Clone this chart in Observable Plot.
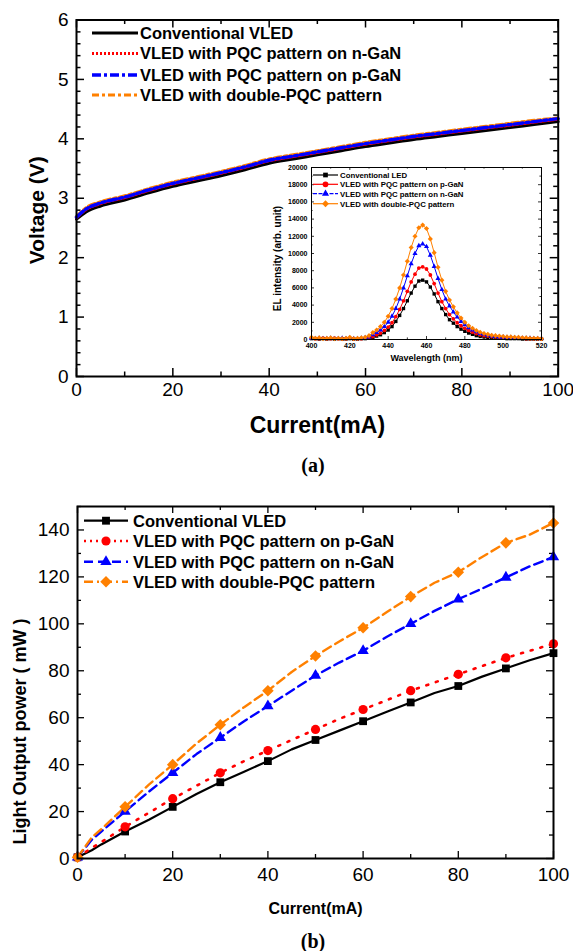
<!DOCTYPE html>
<html><head><meta charset="utf-8">
<script src="https://cdn.jsdelivr.net/npm/d3@7"></script>
<script src="https://cdn.jsdelivr.net/npm/@observablehq/plot@0.6"></script>
<style>
body{margin:0;background:#fff;}
#wrap{position:relative;width:573px;height:951px;background:#fff;overflow:hidden;font-family:"Liberation Sans",Arial,sans-serif;}
#wrap > svg{position:absolute;}
.cap{position:absolute;font-family:"Liberation Serif","Times New Roman",serif;font-weight:bold;font-size:20px;transform:translate(-50%,-50%);color:#000;}
</style></head><body><div id="wrap"></div>
<script>
// ---------- Panel (a): I-V ----------
const ivCurrent      = [0,2,5,10,15,20,25,30,35,40,45,50,55,60,65,70,75,80,85,90,95,100];
const ivConventional = [2.65,2.77,2.87,2.97,3.09,3.20,3.29,3.38,3.48,3.59,3.66,3.73,3.80,3.87,3.93,3.99,4.04,4.09,4.14,4.19,4.24,4.29];
const ivPqcN         = [2.67,2.81,2.91,3.01,3.13,3.24,3.33,3.42,3.52,3.63,3.70,3.77,3.84,3.91,3.97,4.03,4.08,4.13,4.18,4.23,4.28,4.33];
const ivPqcP         = [2.68,2.82,2.92,3.02,3.14,3.25,3.34,3.43,3.53,3.64,3.71,3.78,3.85,3.92,3.98,4.04,4.09,4.14,4.19,4.24,4.29,4.34];
const ivDouble       = [2.69,2.84,2.94,3.04,3.16,3.27,3.36,3.45,3.55,3.66,3.73,3.80,3.87,3.94,4.00,4.06,4.11,4.16,4.21,4.26,4.31,4.35];
const ivNames = ["Conventional VLED","VLED with PQC pattern on n-GaN","VLED with PQC pattern on p-GaN","VLED with double-PQC pattern"];
const ivXTicks = [0,20,40,60,80,100];
const ivYTicks = [0,1,2,3,4,5,6];

// ---------- Inset: EL spectra ----------
const wavelength = [400,402,404,406,408,410,412,414,416,418,420,422,424,426,428,430,432,434,436,438,440,442,444,446,448,450,452,454,456,458,460,462,464,466,468,470,472,474,476,478,480,482,484,486,488,490,492,494,496,498,500,502,504,506,508,510,512,514,516,518,520];
const elConventional = [100,100,50,100,50,100,50,100,50,50,100,50,50,100,100,150,250,400,550,800,1100,1500,2100,2800,3600,4500,5400,6200,6800,6900,6700,6100,5300,4400,3600,2900,2300,1900,1500,1200,950,750,600,450,350,300,250,200,200,150,150,100,100,100,100,50,50,50,50,50,50];
const elPqcP = [150,100,100,150,100,100,150,100,100,100,150,100,100,100,150,200,350,550,750,1050,1450,1950,2650,3500,4500,5600,6700,7600,8300,8450,8200,7500,6500,5400,4400,3600,2900,2400,1950,1600,1300,1050,850,700,550,450,400,350,300,250,250,200,200,150,150,150,100,100,100,100,100];
const elPqcN = [150,100,150,100,100,150,100,100,150,100,150,100,100,150,200,300,550,800,1100,1500,2000,2700,3600,4700,6000,7400,8800,10000,10900,11100,10800,9800,8500,7100,5800,4700,3900,3200,2600,2100,1700,1350,1100,900,700,600,500,400,350,300,300,250,250,200,200,150,150,150,100,100,100];
const elDouble = [250,150,200,100,150,200,100,150,100,150,250,100,150,200,250,450,800,1100,1500,2000,2700,3600,4700,6000,7500,9100,10700,12000,13000,13300,12900,11700,10100,8400,6900,5600,4600,3800,3100,2500,2000,1600,1300,1050,850,700,600,500,450,400,350,300,300,250,250,200,200,150,150,150,100];
const elNames = ["Conventional LED","VLED with PQC pattern on p-GaN","VLED with PQC pattern on n-GaN","VLED with double-PQC pattern"];
const elXTicks = [400,420,440,460,480,500,520];
const elYTicks = [0,2000,4000,6000,8000,10000,12000,14000,16000,18000,20000];

// ---------- Panel (b): L-I ----------
const lopCurrent      = [0,3,5,10,15,20,25,30,35,40,45,50,55,60,65,70,75,80,85,90,95,100];
const lopConventional = [0.5,3.5,6,11.5,16.5,22,27.5,32.5,37,41.5,46.5,50.5,54.5,58.5,62.5,66.5,70.5,73.5,77.5,81,84.5,87.5];
const lopPqcP         = [0.5,4.5,7,13.5,19.5,25.5,31,36.5,41.5,46,50.5,55,59.5,63.5,67.5,71.5,75,78.5,82,85.5,88.5,91.5];
const lopPqcN         = [0.5,8,11.5,20,28.5,36.5,44.5,51.5,58.5,65,71.5,78,83.5,88.5,94.5,100,105.5,110.5,115,119.8,124.5,128.5];
const lopDouble       = [0.5,9,12.5,22,31.5,40,49,57,64.5,71.5,79.5,86.3,92.5,98.3,105,111.6,117.5,122,128.5,134.5,138,143];
const lopNames = ["Conventional VLED","VLED with PQC pattern on p-GaN","VLED with PQC pattern on n-GaN","VLED with double-PQC pattern"];
const lopXTicks = [0,20,40,60,80,100];
const lopYTicks = [0,20,40,60,80,100,120,140];

// ---------- helpers ----------
const FONT = "Liberation Sans, Arial, Helvetica, sans-serif";
const RED = "#ff0000", BLUE = "#0000ff", ORANGE = "#ff8000", BLACK = "#000000";
const rows = (xs, ys) => xs.map((x, i) => ({x, y: ys[i]}));
const range = (a, b, s) => d3.range(a, b + s / 2, s);
const fmt = d => String(d);

function boxTicks({xMajor, xMinor, yMajor, yMinor, innerW, innerH, maj, min, sw}) {
  const tx = (v, len) => [
    Plot.tickX(v, {x: d => d, insetTop: innerH - len, stroke: BLACK, strokeWidth: sw}),
    Plot.tickX(v, {x: d => d, insetBottom: innerH - len, stroke: BLACK, strokeWidth: sw})
  ];
  const ty = (v, len) => [
    Plot.tickY(v, {y: d => d, insetRight: innerW - len, stroke: BLACK, strokeWidth: sw}),
    Plot.tickY(v, {y: d => d, insetLeft: innerW - len, stroke: BLACK, strokeWidth: sw})
  ];
  return [...tx(xMajor, maj), ...tx(xMinor, min), ...ty(yMajor, maj), ...ty(yMinor, min)];
}

function drawLegend(svg, items, {x1, x2, xText, ys, fontSize}) {
  const g = d3.select(svg).append("g");
  items.forEach((it, i) => {
    g.append("line").attr("x1", x1).attr("x2", x2).attr("y1", ys[i]).attr("y2", ys[i])
      .attr("stroke", it.color).attr("stroke-width", it.width)
      .attr("stroke-dasharray", it.dash || null);
    if (it.symbol) {
      g.append("path").attr("transform", `translate(${(x1 + x2) / 2},${ys[i]})`)
        .attr("d", d3.symbol(it.symbol, it.size)()).attr("fill", it.color);
    }
    g.append("text").attr("x", xText).attr("y", ys[i]).attr("dy", "0.36em")
      .attr("text-anchor", "start")
      .attr("font-family", FONT).attr("font-size", fontSize).attr("font-weight", "bold")
      .attr("fill", "#000").text(it.label);
  });
}

const wrap = document.getElementById("wrap");

// ---------- Panel (a) ----------
{
  const width = 573, height = 445, mL = 76, mR = 15.3, mT = 19.5, mB = 69;
  const innerW = width - mL - mR, innerH = height - mT - mB;
  const styles = [
    {ys: ivConventional, color: BLACK, width: 3, dash: null},
    {ys: ivPqcN, color: RED, width: 3, dash: "2,2"},
    {ys: ivDouble, color: ORANGE, width: 3.2, dash: "7,3,3,3"},
    {ys: ivPqcP, color: BLUE, width: 3.4, dash: "9,3,3,3"}
  ];
  const svg = Plot.plot({
    width, height, marginLeft: mL, marginRight: mR, marginTop: mT, marginBottom: mB,
    x: {domain: [0, 100]}, y: {domain: [0, 6]},
    style: {fontFamily: FONT, fontSize: "19px", color: "#000", background: "transparent", overflow: "visible"},
    marks: [
      ...boxTicks({xMajor: ivXTicks, xMinor: range(10, 90, 20), yMajor: ivYTicks, yMinor: range(0.2, 5.8, 0.2).filter(v => Math.abs(v - Math.round(v)) > 0.01),
        innerW, innerH, maj: 8, min: 4.5, sw: 1.5}),
      ...styles.map(s => Plot.line(rows(ivCurrent, s.ys), {x: "x", y: "y", stroke: s.color, strokeWidth: s.width, strokeDasharray: s.dash, curve: "monotone-x"})),
      Plot.frame({stroke: BLACK, strokeWidth: 2}),
      Plot.axisX({ticks: ivXTicks, tickSize: 0, tickPadding: 6, label: null, tickFormat: fmt}),
      Plot.axisY({ticks: ivYTicks, tickSize: 0, tickPadding: 8, label: null, tickFormat: fmt}),
      Plot.text(["Current(mA)"], {text: d => d, frameAnchor: "bottom", dy: 49, lineAnchor: "middle", textAnchor: "middle", fontWeight: "bold", fontSize: 23}),
      Plot.text(["Voltage (V)"], {text: d => d, frameAnchor: "left", dx: -39, dy: 12, rotate: -90, textAnchor: "middle", lineAnchor: "middle", fontWeight: "bold", fontSize: 21})
    ]
  });
  svg.style.left = "0px"; svg.style.top = "0px";
  wrap.appendChild(svg);
  drawLegend(svg, [
    {label: ivNames[0], color: BLACK, width: 3},
    {label: ivNames[1], color: RED, width: 3, dash: "2,2"},
    {label: ivNames[2], color: BLUE, width: 3.4, dash: "9,3,3,3"},
    {label: ivNames[3], color: ORANGE, width: 3.2, dash: "7,3,3,3"}
  ], {x1: 92, x2: 138, xText: 140, ys: [33, 53.5, 75, 95], fontSize: 16.5});
}

// ---------- Inset ----------
{
  const width = 300, height = 205, mL = 56, mR = 14, mT = 7, mB = 26;
  const innerW = width - mL - mR, innerH = height - mT - mB;
  const series = [
    {ys: elConventional, color: BLACK, symbol: "square"},
    {ys: elPqcP, color: RED, symbol: "circle"},
    {ys: elPqcN, color: BLUE, symbol: "triangle"},
    {ys: elDouble, color: ORANGE, symbol: "diamond2"}
  ];
  const svg = Plot.plot({
    width, height, marginLeft: mL, marginRight: mR, marginTop: mT, marginBottom: mB,
    x: {domain: [400, 520]}, y: {domain: [0, 20000]},
    style: {fontFamily: FONT, fontSize: "7px", fontWeight: "bold", color: "#000", background: "transparent", overflow: "visible"},
    marks: [
      ...boxTicks({xMajor: elXTicks, xMinor: range(410, 510, 20), yMajor: elYTicks, yMinor: range(1000, 19000, 2000),
        innerW, innerH, maj: 3, min: 1.6, sw: 0.8}),
      ...series.map(s => Plot.line(rows(wavelength, s.ys), {x: "x", y: "y", stroke: s.color, strokeWidth: 1})),
      ...series.map(s => Plot.dot(rows(wavelength, s.ys), {x: "x", y: "y", fill: s.color, symbol: s.symbol, r: s.symbol === "diamond2" ? 2.3 : 1.9})),
      Plot.frame({stroke: BLACK, strokeWidth: 1}),
      Plot.axisX({ticks: elXTicks, tickSize: 0, tickPadding: 4, label: null, tickFormat: fmt}),
      Plot.axisY({ticks: elYTicks, tickSize: 0, tickPadding: 4, label: null, tickFormat: fmt}),
      Plot.text(["Wavelength (nm)"], {text: d => d, frameAnchor: "bottom", dy: 19, lineAnchor: "middle", textAnchor: "middle", fontWeight: "bold", fontSize: 9}),
      Plot.text(["EL intensity (arb. unit)"], {text: d => d, frameAnchor: "left", dx: -34, dy: 5, rotate: -90, textAnchor: "middle", lineAnchor: "middle", fontWeight: "bold", fontSize: 10})
    ]
  });
  svg.style.left = "255px"; svg.style.top = "160px";
  wrap.appendChild(svg);
  drawLegend(svg, [
    {label: elNames[0], color: BLACK, width: 1.2, symbol: d3.symbolSquare, size: 22},
    {label: elNames[1], color: RED, width: 1.2, symbol: d3.symbolCircle, size: 26},
    {label: elNames[2], color: BLUE, width: 1.2, symbol: d3.symbolTriangle, size: 22, dash: "4,1.5"},
    {label: elNames[3], color: ORANGE, width: 1.2, symbol: d3.symbolDiamond2, size: 30}
  ], {x1: 58, x2: 83, xText: 85, ys: [15, 24.3, 33.7, 43.7], fontSize: 7.8});
}

// ---------- Panel (b) ----------
{
  const width = 573, height = 430, mL = 77, mR = 20, mT = 16, mB = 62;
  const innerW = width - mL - mR, innerH = height - mT - mB;
  const series = [
    {ys: lopConventional, color: BLACK, width: 2.2, dash: null, symbol: "square", r: 4.4},
    {ys: lopPqcP, color: RED, width: 2.6, dash: "2,8", symbol: "circle", r: 4.6},
    {ys: lopPqcN, color: BLUE, width: 2.4, dash: "9,5", symbol: "triangle", r: 4.2},
    {ys: lopDouble, color: ORANGE, width: 2.4, dash: "9,5", symbol: "diamond2", r: 5.2}
  ];
  const svg = Plot.plot({
    width, height, marginLeft: mL, marginRight: mR, marginTop: mT, marginBottom: mB,
    x: {domain: [0, 100]}, y: {domain: [0, 150]},
    style: {fontFamily: FONT, fontSize: "19px", color: "#000", background: "transparent", overflow: "visible"},
    marks: [
      ...boxTicks({xMajor: lopXTicks, xMinor: range(10, 90, 20), yMajor: lopYTicks, yMinor: range(10, 150, 20),
        innerW, innerH, maj: 7, min: 4, sw: 1.3}),
      ...series.map(s => Plot.line(rows(lopCurrent, s.ys), {x: "x", y: "y", stroke: s.color, strokeWidth: s.width, strokeDasharray: s.dash, strokeLinecap: "round"})),
      ...series.map(s => Plot.dot(rows(lopCurrent, s.ys).filter(d => d.x % 10 === 0), {x: "x", y: "y", fill: s.color, symbol: s.symbol, r: s.r})),
      Plot.frame({stroke: BLACK, strokeWidth: 2}),
      Plot.axisX({ticks: lopXTicks, tickSize: 0, tickPadding: 9, label: null, tickFormat: fmt}),
      Plot.axisY({ticks: lopYTicks, tickSize: 0, tickPadding: 8, label: null, tickFormat: fmt}),
      Plot.text(["Current(mA)"], {text: d => d, frameAnchor: "bottom", dy: 50, lineAnchor: "middle", textAnchor: "middle", fontWeight: "bold", fontSize: 16}),
      Plot.text(["Light Output power ( mW )"], {text: d => d, frameAnchor: "left", dx: -57, dy: 49, rotate: -90, textAnchor: "middle", lineAnchor: "middle", fontWeight: "bold", fontSize: 18})
    ]
  });
  svg.style.left = "0px"; svg.style.top = "490px";
  wrap.appendChild(svg);
  drawLegend(svg, [
    {label: lopNames[0], color: BLACK, width: 2.2, symbol: d3.symbolSquare, size: 62},
    {label: lopNames[1], color: RED, width: 2.4, dash: "2,4", symbol: d3.symbolCircle, size: 66},
    {label: lopNames[2], color: BLUE, width: 2.4, dash: "9,5", symbol: d3.symbolTriangle, size: 56},
    {label: lopNames[3], color: ORANGE, width: 2.4, dash: "9,4,2,4", symbol: d3.symbolDiamond2, size: 85}
  ], {x1: 84, x2: 128, xText: 133, ys: [30.7, 51, 71.7, 91.7], fontSize: 16.5});
}

// ---------- captions ----------
for (const [t, x, y] of [["(a)", 313, 465], ["(b)", 313, 941]]) {
  const d = document.createElement("div");
  d.className = "cap"; d.textContent = t;
  d.style.left = x + "px"; d.style.top = y + "px";
  wrap.appendChild(d);
}
</script></body></html>
